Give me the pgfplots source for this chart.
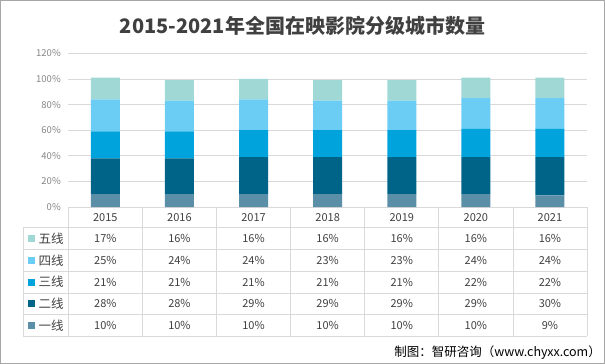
\documentclass[border=0pt]{standalone}
\usepackage{pgfplots}
\pgfplotsset{compat=1.18}
\usepackage{fontspec}
\setmainfont{Noto Sans CJK SC}
\definecolor{cA}{HTML}{5B8FA8}
\definecolor{cB}{HTML}{006388}
\definecolor{cC}{HTML}{00A3DC}
\definecolor{cD}{HTML}{6BCDF4}
\definecolor{cE}{HTML}{A0D8D6}
\definecolor{tickgray}{HTML}{858585}
\definecolor{linegray}{HTML}{D9D9D9}
\definecolor{framegray}{HTML}{A6A6A6}
\definecolor{txt}{HTML}{404040}
\begin{document}
\begin{tikzpicture}[x=1pt,y=1pt]
% frame
\draw[framegray,line width=1pt] (0.5,-0.5) rectangle (604.5,-363.5);
% title
\node[font=\fontsize{20}{24}\selectfont\bfseries,text=txt] at (302.5,-26) {2015-2021年全国在映影院分级城市数量};
\begin{axis}[
  at={(68.3pt,-207pt)}, anchor=south west,
  scale only axis, width=518.7pt, height=153.7pt,
  xmin=-0.5, xmax=6.5, ymin=0, ymax=120,
  ybar stacked, bar width=29pt,
  xtick=\empty,
  ytick={0,20,...,120},
  yticklabel={\pgfmathprintnumber{\tick}\%},
  /pgf/number format/assume math mode=true,
  yticklabel style={font=\fontsize{9.5}{11}\selectfont, text=tickgray, xshift=-4pt},
  ymajorgrids, grid style={linegray, line width=0.8pt},
  axis line style={draw=none}, major tick length=0pt,
  clip=false,
]
\addplot[fill=cA, draw=none] coordinates {(0,10) (1,10) (2,10) (3,10) (4,10) (5,10) (6,9)};
\addplot[fill=cB, draw=none] coordinates {(0,28) (1,28) (2,29) (3,29) (4,29) (5,29) (6,30)};
\addplot[fill=cC, draw=none] coordinates {(0,21) (1,21) (2,21) (3,21) (4,21) (5,22) (6,22)};
\addplot[fill=cD, draw=none] coordinates {(0,25) (1,24) (2,24) (3,23) (4,23) (5,24) (6,24)};
\addplot[fill=cE, draw=none] coordinates {(0,17) (1,16) (2,16) (3,16) (4,16) (5,16) (6,16)};
\end{axis}
% table lines
\begin{scope}[linegray, line width=0.8pt]
\draw (68.3,-227.3) -- (587,-227.3);
\foreach \y in {-227.3,-249.3,-271.3,-292.9,-314.5,-336.2} \draw (23,\y) -- (587,\y);
\foreach \i in {0,...,7} \draw ({68.3+74.1*\i},-207) -- ({68.3+74.1*\i},-336.2);
\draw (23,-227.3) -- (23,-336.2);
\end{scope}
% header years
\foreach \yr [count=\i from 0] in {2015,2016,2017,2018,2019,2020,2021}
  \node[font=\fontsize{11}{13}\selectfont,text=txt] at ({68.3+74.1*(\i+0.5)},-217.3) {\yr};
% row labels
\foreach \lab/\col/\yy in {五线/cE/-238.3, 四线/cD/-260.3, 三线/cC/-282.1, 二线/cB/-303.7, 一线/cA/-325.3}{
  \fill[\col] (28,\yy-3.5) rectangle (35,\yy+3.5);
  \node[anchor=west,font=\fontsize{12.5}{14}\selectfont,text=txt,inner sep=0pt] at (38.5,\yy) {\lab};
}
% values
\foreach \row/\yy in {{17,16,16,16,16,16,16}/-238.3, {25,24,24,23,23,24,24}/-260.3, {21,21,21,21,21,22,22}/-282.1, {28,28,29,29,29,29,30}/-303.7, {10,10,10,10,10,10,9}/-325.3}{
  \foreach \v [count=\i from 0] in \row
    \node[font=\fontsize{11}{13}\selectfont,text=txt] at ({68.3+74.1*(\i+0.5)},\yy) {\v\%};
}
% source
\node[anchor=east,font=\fontsize{12.5}{14}\selectfont,text=black,inner sep=0pt] at (601,-352.5) {制图：智研咨询（www.chyxx.com）};
\end{tikzpicture}
\end{document}
